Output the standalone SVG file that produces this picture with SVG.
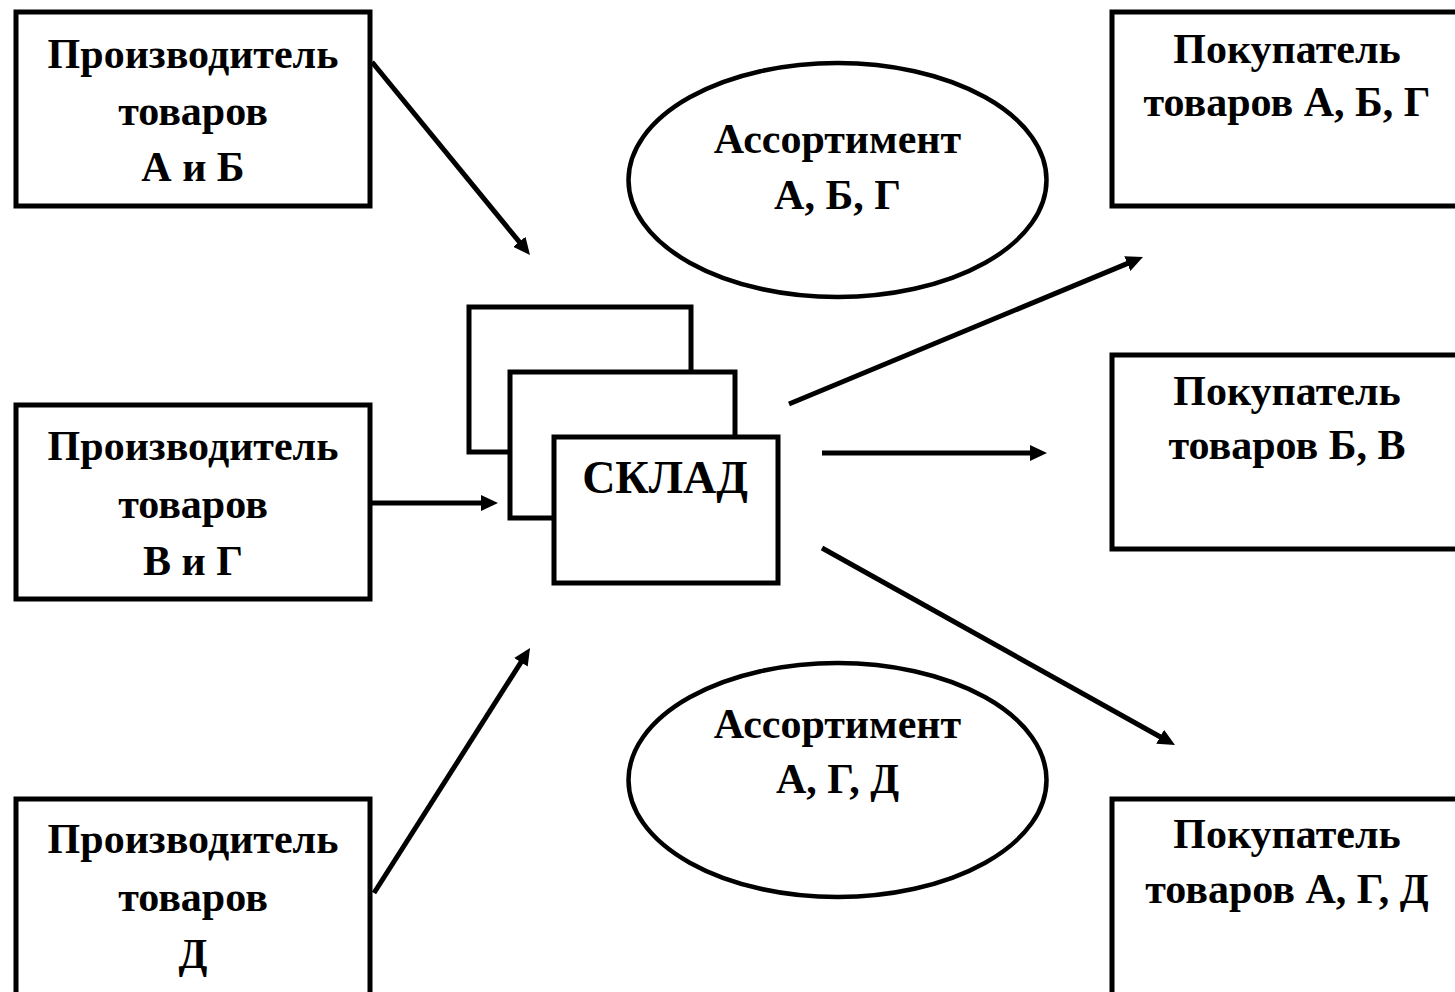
<svg xmlns="http://www.w3.org/2000/svg" width="1455" height="992" viewBox="0 0 1455 992">
<style>
.box{fill:#fff;stroke:#000;stroke-width:5}
.ell{fill:#fff;stroke:#000;stroke-width:4.5}
.t{font-family:"Liberation Serif","Times New Roman",serif;font-weight:bold;font-size:42px;text-anchor:middle;fill:#000}
.big{font-size:46px}
.c{stroke:#000;stroke-width:5;fill:none;marker-end:url(#ah)}
</style>
<defs>
<marker id="ah" markerUnits="userSpaceOnUse" markerWidth="17" markerHeight="16" refX="5" refY="8" orient="auto">
<path d="M0,0 L17,8 L0,16 z" fill="#000"/>
</marker>
</defs>
<rect width="1455" height="992" fill="#fff"/>
<g id="producer-ab">
<rect class="box" x="16" y="12" width="354" height="194"/>
<text class="t" x="193" y="68">Производитель</text>
<text class="t" x="193" y="125">товаров</text>
<text class="t" x="193" y="181">А и Б</text>
</g>
<g id="producer-vg">
<rect class="box" x="16" y="405" width="354" height="194"/>
<text class="t" x="193" y="460">Производитель</text>
<text class="t" x="193" y="518">товаров</text>
<text class="t" x="193" y="575">В и Г</text>
</g>
<g id="producer-d">
<rect class="box" x="16" y="799" width="354" height="200"/>
<text class="t" x="193" y="853">Производитель</text>
<text class="t" x="193" y="911">товаров</text>
<text class="t" x="193" y="968">Д</text>
</g>
<g id="assortment-1">
<ellipse class="ell" cx="837.5" cy="180" rx="209" ry="117"/>
<text class="t" x="837.5" y="153">Ассортимент</text>
<text class="t" x="837.5" y="209">А, Б, Г</text>
</g>
<g id="assortment-2">
<ellipse class="ell" cx="837.5" cy="780" rx="209" ry="117"/>
<text class="t" x="837.5" y="738">Ассортимент</text>
<text class="t" x="837.5" y="793">А, Г, Д</text>
</g>
<g id="warehouse">
<rect class="box" x="469" y="307" width="222" height="145"/>
<rect class="box" x="510" y="372" width="225" height="146"/>
<rect class="box" x="554" y="437" width="224" height="146"/>
<text class="t big" x="665" y="493">СКЛАД</text>
</g>
<g id="buyer-abg">
<rect class="box" x="1112" y="12" width="400" height="194"/>
<text class="t" x="1287" y="63">Покупатель</text>
<text class="t" x="1287" y="116">товаров А, Б, Г</text>
</g>
<g id="buyer-bv">
<rect class="box" x="1112" y="355" width="400" height="194"/>
<text class="t" x="1287" y="405">Покупатель</text>
<text class="t" x="1287" y="459">товаров Б, В</text>
</g>
<g id="buyer-agd">
<rect class="box" x="1112" y="799" width="400" height="200"/>
<text class="t" x="1287" y="848">Покупатель</text>
<text class="t" x="1287" y="903">товаров А, Г, Д</text>
</g>
<g id="connectors">
<line class="c" x1="372" y1="62" x2="522.4" y2="245.7"/>
<line class="c" x1="372" y1="503" x2="486" y2="503"/>
<line class="c" x1="374" y1="893" x2="523.6" y2="658.1"/>
<line class="c" x1="789" y1="404" x2="1131.9" y2="261.6"/>
<line class="c" x1="822" y1="453" x2="1035" y2="453"/>
<line class="c" x1="822" y1="548" x2="1164.5" y2="739.2"/>
</g>
</svg>
